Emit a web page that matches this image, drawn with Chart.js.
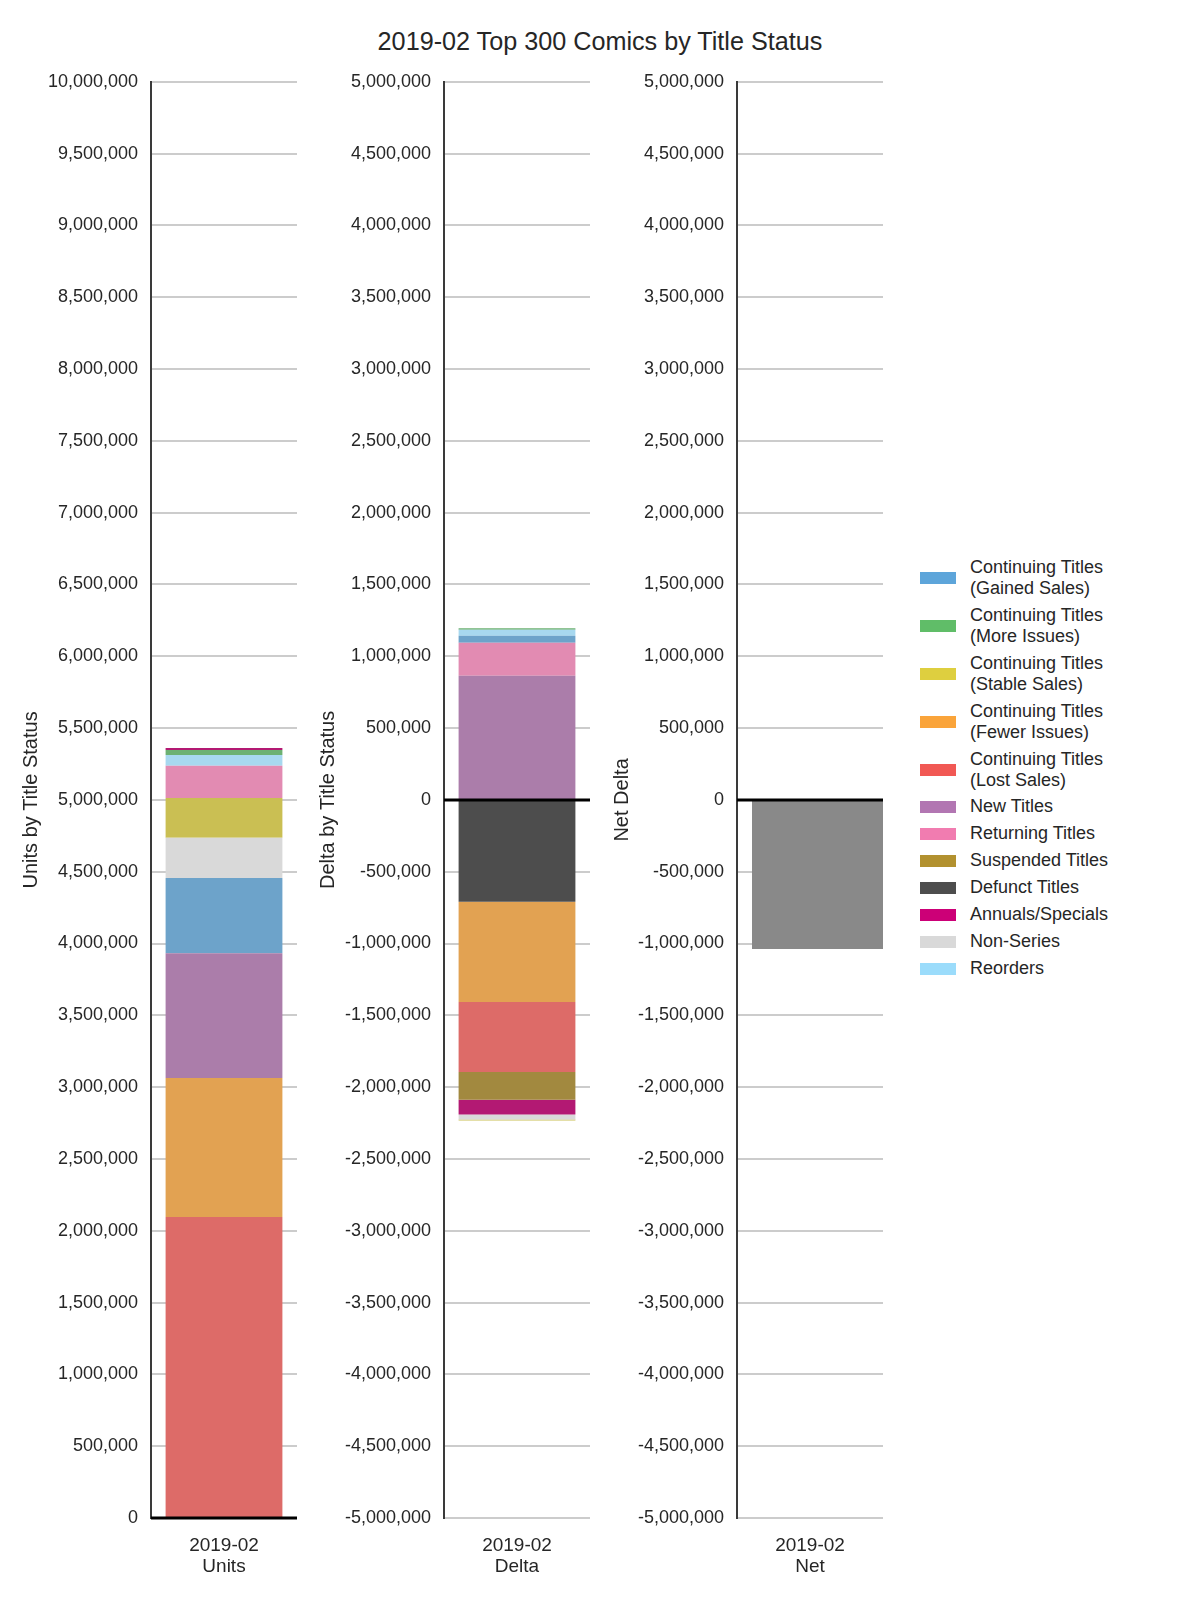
<!DOCTYPE html>
<html>
<head>
<meta charset="utf-8">
<script src="https://cdn.jsdelivr.net/npm/chart.js@4.4.1/dist/chart.umd.min.js"></script>
<style>
  body { margin: 0; background: #fff; font-family: "Liberation Sans", Arial, sans-serif; color: #262626; }
  #page { position: relative; width: 1200px; height: 1600px; }
  #title { position: absolute; left: 0; top: 26px; width: 1200px; text-align: center; font-size: 25.2px; line-height: 30px; }
  canvas { position: absolute; top: 58px; }
  #legend { position: absolute; left: 920px; top: 554px; font-size: 18px; line-height: 21px; }
  .item { display: flex; align-items: center; height: 27px; }
  .item.two { height: 48px; }
  .item.first-single { margin-top: -1px; }
  .patch { width: 36px; height: 12px; margin-right: 14px; flex: none; }
  .txt { white-space: pre-line; }
</style>
</head>
<body>
<div id="page">
  <div id="title">2019-02 Top 300 Comics by Title Status</div>
  <canvas id="unitsChart" width="297" height="1530" style="left:0px"></canvas>
  <canvas id="deltaChart" width="297" height="1530" style="left:293px"></canvas>
  <canvas id="netChart" width="297" height="1530" style="left:586px"></canvas>
  <div id="legend"></div>
</div>
<script>
  // data
  const months = ["2019-02"];
  const categories = [
    "Continuing Titles\n(Gained Sales)",
    "Continuing Titles\n(More Issues)",
    "Continuing Titles\n(Stable Sales)",
    "Continuing Titles\n(Fewer Issues)",
    "Continuing Titles\n(Lost Sales)",
    "New Titles",
    "Returning Titles",
    "Suspended Titles",
    "Defunct Titles",
    "Annuals/Specials",
    "Non-Series",
    "Reorders"
  ];
  const baseColors = ["#5DA5DA", "#60BD68", "#DECF3F", "#FAA43A", "#F15854", "#B276B2",
                      "#F17CB0", "#B2912F", "#4D4D4D", "#CC0077", "#D9D9D9", "#9BDCFB"];
  const unitsValues = [525000, 35000, 277000, 968000, 2096000, 868000, 223000, 0, 0, 14000, 280000, 76000];
  const deltaValues = [49000, 10000, -7000, -697000, -487000, 864000, 230000, -193000, -710000, -104000, -35000, 42000];
  const netValues = [-1038000];
  const netColor = "#898989";
  const unitsRange = [0, 10000000];
  const deltaRange = [-5000000, 5000000];
  const tickStep = 500000;

  // seaborn-style desaturation of bar colours
  function desaturate(hex, prop) {
    const r = parseInt(hex.slice(1, 3), 16) / 255;
    const g = parseInt(hex.slice(3, 5), 16) / 255;
    const b = parseInt(hex.slice(5, 7), 16) / 255;
    const max = Math.max(r, g, b), min = Math.min(r, g, b);
    const l = (max + min) / 2;
    if (max === min) return hex;
    const d = max - min;
    let s = l > 0.5 ? d / (2 - max - min) : d / (max + min);
    let h;
    if (max === r) h = (g - b) / d + (g < b ? 6 : 0);
    else if (max === g) h = (b - r) / d + 2;
    else h = (r - g) / d + 4;
    h /= 6;
    s *= prop;
    const q = l < 0.5 ? l * (1 + s) : l + s - l * s;
    const p = 2 * l - q;
    const f = t => {
      if (t < 0) t += 1;
      if (t > 1) t -= 1;
      if (t < 1 / 6) return p + (q - p) * 6 * t;
      if (t < 1 / 2) return q;
      if (t < 2 / 3) return p + (q - p) * (2 / 3 - t) * 6;
      return p;
    };
    return "rgb(" + Math.round(f(h + 1 / 3) * 255) + "," + Math.round(f(h) * 255) + "," + Math.round(f(h - 1 / 3) * 255) + ")";
  }

  // biggest segment sits next to zero, like the original
  function stackedSets(values) {
    return categories
      .map((c, i) => ({ label: c, data: [values[i]], backgroundColor: desaturate(baseColors[i], 0.75), borderWidth: 0 }))
      .filter(ds => ds.data[0] !== 0)
      .sort((a, b) => Math.abs(b.data[0]) - Math.abs(a.data[0]));
  }

  const zeroLine = {
    id: "zeroLine",
    afterDatasetsDraw(chart) {
      const { ctx, chartArea, scales } = chart;
      const y = scales.y.getPixelForValue(0);
      ctx.save();
      ctx.strokeStyle = "#000";
      ctx.lineWidth = 3;
      ctx.beginPath();
      ctx.moveTo(chartArea.left, y);
      ctx.lineTo(chartArea.right, y);
      ctx.stroke();
      ctx.restore();
    }
  };

  Chart.defaults.font.family = '"Liberation Sans", Arial, sans-serif';
  Chart.defaults.color = "#262626";

  function makeChart(id, name, datasets, range, yTitle, titlePad, barPct, stacked) {
    return new Chart(document.getElementById(id), {
      type: "bar",
      data: { labels: months.map(m => [m, name]), datasets: datasets },
      options: {
        responsive: false,
        animation: false,
        layout: { padding: { top: 18, left: 0, right: 0, bottom: 0 }, autoPadding: false },
        plugins: { legend: { display: false }, tooltip: { enabled: false } },
        datasets: { bar: { categoryPercentage: 1, barPercentage: barPct } },
        scales: {
          x: {
            stacked: stacked,
            grid: { display: false, drawTicks: false },
            border: { display: false },
            ticks: { padding: 17, font: { size: 19, lineHeight: 1.1 }, maxRotation: 0 },
            afterFit: s => { s.height = 70; }
          },
          y: {
            stacked: stacked,
            min: range[0],
            max: range[1],
            ticks: { stepSize: tickStep, maxTicksLimit: 30, padding: 13, font: { size: 18 },
                     callback: v => v.toLocaleString("en-US") },
            grid: { color: "#cccccc", lineWidth: 2, drawTicks: false },
            border: { display: true, color: "#3a3a3a", width: 2 },
            title: { display: true, text: yTitle, font: { size: 20 }, padding: { top: titlePad, bottom: 0 } },
            afterFit: s => { s.width = 151; }
          }
        }
      },
      plugins: [zeroLine]
    });
  }

  makeChart("unitsChart", "Units", stackedSets(unitsValues), unitsRange, "Units by Title Status", 19, 0.8, true);
  makeChart("deltaChart", "Delta", stackedSets(deltaValues), deltaRange, "Delta by Title Status", 23, 0.8, true);
  // the original net bar sits right of centre: an empty first group pushes it over
  makeChart("netChart", "Net", [
    { label: "", data: [null] },
    { label: "Net", data: netValues, backgroundColor: netColor, borderWidth: 0,
      categoryPercentage: 0.2055, barPercentage: 8.733 }
  ], deltaRange, "Net Delta", 24, 0.9, false);

  // legend
  const legend = document.getElementById("legend");
  let seenSingle = false;
  categories.forEach((c, i) => {
    const item = document.createElement("div");
    const two = c.indexOf("\n") >= 0;
    item.className = "item" + (two ? " two" : "");
    if (!two && !seenSingle) { item.className += " first-single"; seenSingle = true; }
    const patch = document.createElement("div");
    patch.className = "patch";
    patch.style.background = baseColors[i];
    const txt = document.createElement("div");
    txt.className = "txt";
    txt.textContent = c;
    item.appendChild(patch);
    item.appendChild(txt);
    legend.appendChild(item);
  });
</script>
</body>
</html>
